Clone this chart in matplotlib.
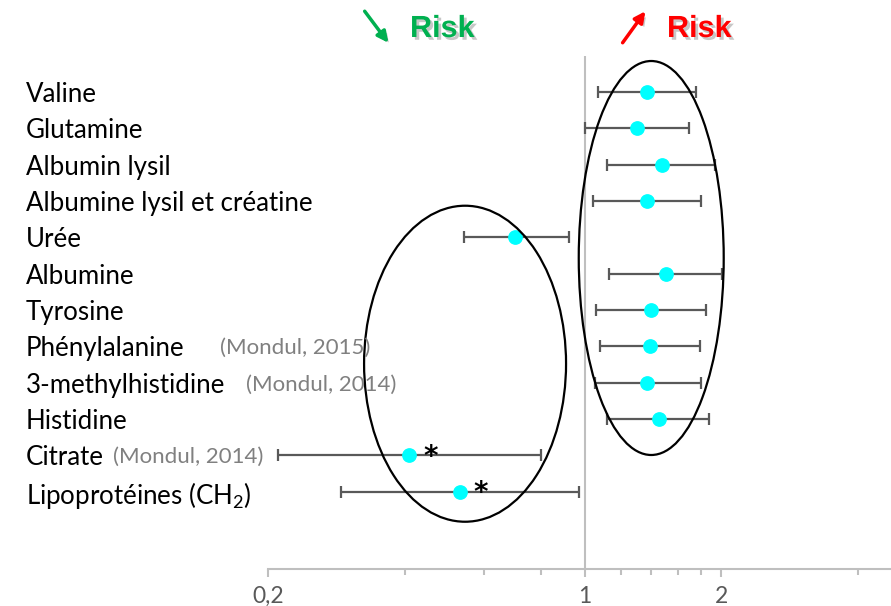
import matplotlib
matplotlib.use("Agg")
import matplotlib.pyplot as plt
import matplotlib.patheffects as pe
from matplotlib.patches import Ellipse, FancyArrowPatch
from matplotlib.ticker import FixedLocator, FixedFormatter, NullFormatter
from matplotlib.transforms import blended_transform_factory
import numpy as np

plt.rcParams["font.family"] = ["Lato", "DejaVu Sans"]

# ---- data -------------------------------------------------------------
metabolites = ["Valine", "Glutamine", "Albumin lysil", "Albumine lysil et créatine",
               "Urée", "Albumine", "Tyrosine", "Phénylalanine", "3-methylhistidine",
               "Histidine", "Citrate", r"Lipoprotéines (CH$_{\mathregular{2}}$)"]
hazard_ratio = [1.37, 1.30, 1.48, 1.37, 0.70, 1.51, 1.40, 1.39, 1.37, 1.46, 0.41, 0.53]
ci_low = [1.07, 1.00, 1.12, 1.04, 0.54, 1.13, 1.06, 1.08, 1.05, 1.12, 0.21, 0.29]
ci_high = [1.76, 1.70, 1.94, 1.80, 0.92, 2.01, 1.85, 1.79, 1.80, 1.88, 0.80, 0.97]
citations = [None, None, None, None, None, None, None,
             "(Mondul, 2015)", "(Mondul, 2014)", None, "(Mondul, 2014)", None]
significant = [False] * 10 + [True, True]
tick_values = [0.2, 1, 2]
tick_labels = ["0,2", "1", "2"]
minor_tick_values = [0.4, 0.6, 0.8, 1.2, 1.4, 1.6, 1.8, 4]

# ---- layout -----------------------------------------------------------
W, H = 891, 606
fig = plt.figure(figsize=(W / 100, H / 100), dpi=100)
ax_left, ax_right, ax_top, ax_bottom = 268, 891, 56, 569
ax = fig.add_axes([ax_left / W, (H - ax_bottom) / H,
                   (ax_right - ax_left) / W, (ax_bottom - ax_top) / H])

rows = np.arange(len(metabolites))
ax.set_xscale("log")
ax.set_xlim(0.2, 4.73)
ax.set_ylim(13.13, -0.99)

for s in ("top", "right", "left"):
    ax.spines[s].set_visible(False)
ax.spines["bottom"].set_color("#bfbfbf")
ax.spines["bottom"].set_linewidth(1.5)
ax.set_yticks([])

ax.xaxis.set_major_locator(FixedLocator(tick_values))
ax.xaxis.set_major_formatter(FixedFormatter(tick_labels))
ax.xaxis.set_minor_locator(FixedLocator(minor_tick_values))
ax.xaxis.set_minor_formatter(NullFormatter())
ax.tick_params(axis="x", which="major", length=6, width=1.5, color="#bfbfbf",
               labelsize=16.5, labelcolor="#595959", pad=6)
ax.tick_params(axis="x", which="minor", length=4.5, width=1.5, color="#bfbfbf")

# reference line at HR = 1
ax.axvline(1, color="#bfbfbf", lw=1.5, zorder=1)

hr = np.array(hazard_ratio)
err = [hr - np.array(ci_low), np.array(ci_high) - hr]
ax.errorbar(hr, rows, xerr=err, fmt="o", color="#00ffff", markersize=9.6,
            markeredgecolor="#00ffff", ecolor="#595959", elinewidth=1.6,
            capsize=4, capthick=1.6, zorder=3)

# significance stars
for x, y, sig in zip(hr, rows, significant):
    if sig:
        ax.annotate("*", xy=(x, y), xytext=(10, -1), textcoords="offset points",
                    fontsize=20, fontweight="bold", color="black",
                    ha="left", va="center", family="DejaVu Sans")

# row labels and citations
lab_tr = blended_transform_factory(fig.transFigure, ax.transData)
cite_x = {7: 220, 8: 246, 10: 113}
for i, name in enumerate(metabolites):
    fig.text(26 / W, 0, name, transform=lab_tr, fontsize=18.6, color="black",
             ha="left", va="center_baseline").set_y(i)
    if citations[i]:
        fig.text(cite_x[i] / W, 0, citations[i], transform=lab_tr, fontsize=16,
                 color="#808080", ha="left", va="center_baseline").set_y(i)

# grouping ellipses (drawn in axes coordinates so they stay elliptical)
to_axes = ax.transData + ax.transAxes.inverted()
for cx, cy, w, h in [(1.40, 4.57, 0.2327, 0.768), (0.544, 7.48, 0.3242, 0.616)]:
    center = to_axes.transform((cx, cy))
    ax.add_patch(Ellipse(center, w, h, transform=ax.transAxes, fill=False,
                         edgecolor="black", lw=1.6, zorder=4, clip_on=False))

# direction headers
shadow = [pe.SimplePatchShadow(offset=(2, -2), shadow_rgbFace="black", alpha=0.22),
          pe.Normal()]
for (tail, head, color, tx) in [((363, H - 9), (390, H - 45), "#00b050", 410),
                                ((621, H - 45), (647, H - 9), "#ff0000", 667)]:
    arr = FancyArrowPatch(tail, head, transform=None, arrowstyle="-|>",
                          mutation_scale=16, lw=2.5, color=color)
    arr.set_path_effects(shadow)
    fig.add_artist(arr)
    t = fig.text(tx / W, (H - 37) / H, "Risk", fontsize=22, fontweight="bold",
                 color=color, family="Liberation Sans", ha="left", va="baseline")
    t.set_path_effects(shadow)

fig.savefig("out.png", dpi=100)
